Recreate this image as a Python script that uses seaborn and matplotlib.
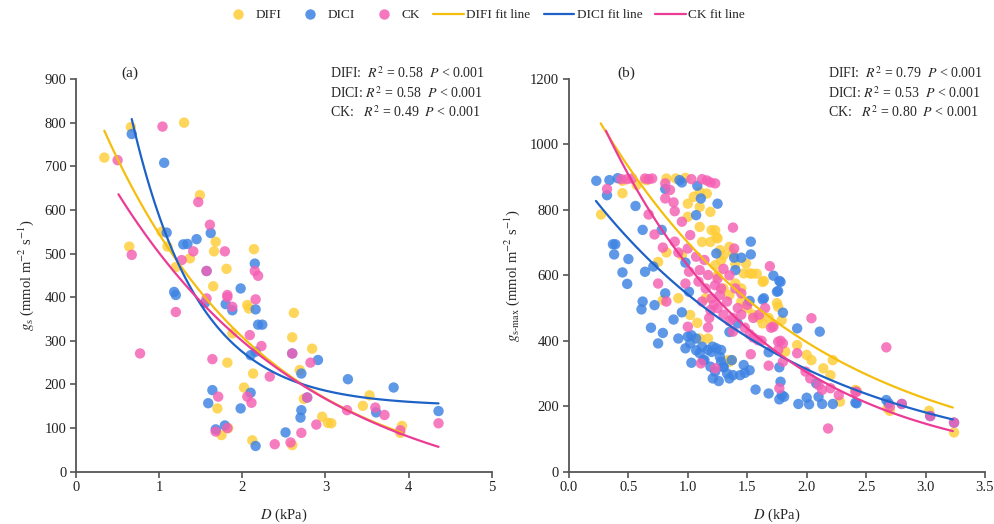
import numpy as np
import pandas as pd
import matplotlib
matplotlib.use("Agg")
import matplotlib.pyplot as plt
from matplotlib.lines import Line2D
import seaborn as sns

# ---------------- data: panel (a) g_s vs D ----------------
a_difi_D = [0.34, 0.66, 1.30, 0.64, 1.03, 1.10, 1.49, 1.68, 1.66, 1.37, 1.81, 2.14, 1.20, 1.65,
            2.06, 2.08, 2.62, 1.88, 2.60, 2.84, 1.82, 2.13, 2.69, 3.53, 3.45, 3.92, 3.90, 2.96,
            3.03, 3.07, 2.74, 2.60, 2.12, 2.02, 1.70, 1.75, 1.83]
a_difi_g = [720, 790, 800, 516, 550, 516, 634, 527, 505, 489, 465, 510, 469, 425,
            382, 374, 364, 317, 308, 282, 250, 225, 233, 175, 151, 105, 89, 126,
            112, 111, 167, 61, 72, 193, 145, 84, 100]

a_dici_D = [0.67, 1.06, 1.09, 1.29, 1.34, 1.45, 1.62, 2.15, 1.98, 1.57, 1.18, 1.20, 1.55, 1.80,
            1.88, 2.16, 2.19, 2.24, 2.10, 2.16, 2.60, 2.91, 2.71, 3.27, 3.82, 3.61, 4.36, 2.70,
            2.71, 2.78, 2.52, 2.16, 2.10, 1.98, 1.64, 1.59, 1.68, 1.79]
a_dici_g = [774, 708, 548, 521, 522, 533, 547, 477, 420, 460, 412, 405, 387, 384,
            370, 372, 337, 337, 267, 275, 271, 256, 225, 212, 193, 136, 139, 124,
            141, 170, 90, 59, 181, 145, 187, 157, 97, 106]

a_ck_D = [0.50, 0.67, 1.04, 1.47, 1.61, 1.41, 1.27, 1.79, 1.57, 2.15, 2.19, 1.57, 1.20, 1.82,
          1.82, 1.88, 2.16, 2.09, 2.23, 2.60, 2.82, 0.77, 1.64, 2.33, 3.60, 3.71, 3.26, 4.36,
          3.90, 2.89, 2.71, 2.78, 2.58, 2.39, 2.06, 2.11, 1.71, 1.68, 1.82]
a_ck_g = [714, 497, 791, 618, 566, 505, 485, 505, 460, 460, 449, 397, 366, 405,
          400, 378, 395, 313, 288, 271, 250, 271, 258, 218, 147, 130, 141, 111,
          95, 108, 89, 170, 67, 63, 172, 158, 172, 92, 100]

# ---------------- data: panel (b) g_s-max vs D ----------------
b_difi_D = [0.27, 0.45, 0.45, 0.57, 0.65, 0.82, 0.90, 0.98, 1.00, 1.05, 1.10, 1.16, 1.10, 1.19,
            1.00, 1.10, 1.12, 1.19, 1.20, 1.24, 1.27, 1.28, 1.35, 1.38, 1.40, 1.54, 1.58, 1.63,
            1.49, 0.75, 0.82, 0.95, 1.23, 1.30, 1.23, 1.25, 1.47, 1.52, 1.64, 1.40, 1.75, 1.02,
            1.08, 1.17, 0.79, 1.76, 1.79, 1.63, 1.92, 2.00, 2.04, 2.14, 2.22, 2.20, 2.28, 2.42,
            1.82, 1.37, 1.34, 2.41, 2.68, 2.70, 3.03, 3.24, 1.30, 1.35, 1.45, 1.50, 1.55, 1.60,
            1.68, 1.72, 1.25, 1.45, 1.15, 0.92, 1.10, 1.35]
b_difi_g = [786, 851, 889, 876, 891, 896, 896, 898, 819, 840, 855, 850, 809, 794,
            779, 748, 702, 702, 738, 717, 677, 646, 687, 666, 634, 605, 605, 580,
            636, 641, 670, 662, 631, 662, 738, 713, 606, 606, 583, 575, 515, 479,
            455, 407, 524, 504, 463, 453, 387, 357, 341, 316, 341, 295, 214, 247,
            367, 341, 341, 250, 194, 186, 186, 120, 560, 540, 520, 500, 480, 470,
            470, 450, 600, 560, 530, 530, 407, 336]

b_dici_D = [0.23, 0.34, 0.41, 0.32, 0.56, 0.62, 0.78, 0.37, 0.39, 0.38, 0.50, 0.45, 0.64, 0.49,
            0.71, 0.81, 0.93, 0.95, 1.08, 1.11, 1.07, 1.25, 0.98, 1.24, 1.53, 1.53, 1.39, 1.45,
            1.40, 1.72, 1.77, 1.76, 1.64, 1.52, 1.78, 1.75, 1.80, 1.92, 2.11, 1.35, 1.42, 1.63,
            0.62, 0.61, 0.72, 0.81, 0.69, 0.79, 0.75, 0.88, 0.95, 0.92, 1.01, 0.98, 1.02, 1.03,
            1.00, 1.03, 1.07, 1.07, 1.10, 1.12, 1.13, 1.17, 1.20, 1.21, 1.14, 1.19, 1.23, 1.24,
            1.27, 1.28, 1.28, 1.30, 1.30, 1.21, 1.26, 1.33, 1.35, 1.38, 1.44, 1.48, 1.52, 1.47,
            1.37, 1.57, 1.68, 1.68, 1.77, 1.78, 1.79, 1.81, 1.77, 1.93, 2.00, 2.02, 2.08, 2.10,
            2.13, 2.22, 2.42, 2.41, 2.67, 2.69, 2.80, 3.04, 3.24]
b_dici_g = [889, 891, 897, 845, 812, 739, 739, 695, 695, 664, 650, 609, 611, 574,
            627, 864, 891, 884, 874, 835, 784, 819, 639, 667, 703, 664, 654, 654,
            616, 599, 583, 552, 530, 522, 580, 550, 486, 438, 428, 427, 453, 526,
            520, 496, 509, 545, 440, 424, 392, 465, 487, 407, 550, 377, 392, 417,
            413, 333, 407, 371, 362, 382, 341, 372, 366, 382, 341, 321, 306, 377,
            351, 336, 372, 319, 321, 285, 277, 300, 285, 295, 295, 302, 310, 326,
            341, 251, 239, 365, 319, 275, 234, 229, 221, 207, 226, 206, 270, 229,
            207, 207, 209, 211, 219, 209, 207, 170, 150]

b_ck_D = [0.32, 0.44, 0.49, 0.53, 0.64, 0.67, 0.70, 0.81, 0.85, 0.88, 0.81, 0.89, 0.67, 0.72,
          0.79, 0.95, 1.02, 1.03, 1.12, 1.16, 1.19, 1.23, 0.89, 0.92, 1.00, 1.07, 1.14, 1.01,
          1.10, 0.75, 0.98, 1.17, 1.23, 1.09, 1.27, 1.38, 1.39, 1.69, 1.45, 1.00, 1.19, 1.17,
          1.11, 1.23, 1.38, 1.53, 1.68, 1.76, 1.80, 1.77, 1.92, 1.99, 2.03, 2.10, 2.13, 2.20,
          2.27, 2.18, 2.42, 1.59, 1.72, 1.76, 1.80, 2.04, 0.82, 2.41, 2.67, 2.70, 2.80, 3.04,
          3.24, 1.15, 1.20, 1.22, 1.25, 1.30, 1.28, 1.33, 1.35, 1.38, 1.42, 1.45, 1.48, 1.50,
          1.55, 1.52, 1.60, 1.65, 1.12, 1.18, 1.25, 1.30, 1.35, 1.40, 1.55, 1.62, 1.70, 1.78]
b_ck_g = [864, 894, 894, 896, 896, 894, 896, 881, 861, 823, 835, 796, 786, 725,
          685, 764, 723, 894, 894, 890, 884, 881, 703, 670, 682, 657, 647, 611,
          616, 575, 575, 601, 570, 581, 540, 746, 682, 628, 545, 443, 494, 441,
          331, 316, 428, 359, 324, 372, 336, 255, 362, 306, 285, 265, 250, 255,
          234, 132, 244, 402, 443, 397, 392, 469, 520, 244, 380, 199, 207, 170,
          150, 560, 530, 510, 500, 480, 560, 520, 460, 470, 500, 480, 440, 510,
          470, 420, 480, 500, 520, 470, 590, 620, 600, 560, 410, 400, 440, 400]

# fit lines: g = amp * exp(-rate * D) + offset, drawn over [D_start, D_end]
a_fit_amp = [980, 1521, 894]
a_fit_rate = [0.515, 1.25, 0.422]
a_fit_offset = [-41, 150, -85]
a_fit_start = [0.34, 0.67, 0.51]
a_fit_end = [3.92, 4.36, 4.36]

b_fit_amp = [1240, 937, 1307]
b_fit_rate = [0.571, 0.548, 0.729]
b_fit_offset = [0, 0, 0]
b_fit_start = [0.267, 0.227, 0.311]
b_fit_end = [3.23, 3.23, 3.23]

a_stats = ["DIFI:  $R^2$ = 0.58  $P$ < 0.001",
           "DICI: $R^2$ = 0.58  $P$ < 0.001",
           "CK:   $R^2$ = 0.49  $P$ < 0.001"]
b_stats = ["DIFI:  $R^2$ = 0.79  $P$ < 0.001",
           "DICI: $R^2$ = 0.53  $P$ < 0.001",
           "CK:   $R^2$ = 0.80  $P$ < 0.001"]

groups = ["DIFI", "DICI", "CK"]
dot_colors = {"DIFI": "#FFCD38", "DICI": "#3D82E3", "CK": "#F55FB3"}
line_colors = {"DIFI": "#F5BE0F", "DICI": "#1E62C8", "CK": "#EC3B95"}

sns.set_style("ticks")
plt.rcParams["font.family"] = ["Liberation Serif", "DejaVu Serif"]
plt.rcParams["mathtext.fontset"] = "stix"
plt.rcParams["axes.edgecolor"] = "#555555"
plt.rcParams["xtick.color"] = "#555555"
plt.rcParams["ytick.color"] = "#555555"
plt.rcParams["xtick.labelcolor"] = "#222222"
plt.rcParams["ytick.labelcolor"] = "#222222"


def long_frame(Ds, gs):
    parts = []
    for name, d, g in zip(groups, Ds, gs):
        parts.append(pd.DataFrame({"D": d, "g": g, "group": name}))
    return pd.concat(parts, ignore_index=True)


def fit_frame(amp, rate, offset, start, end):
    parts = []
    for name, A, k, c, x0, x1 in zip(groups, amp, rate, offset, start, end):
        x = np.linspace(x0, x1, 120)
        parts.append(pd.DataFrame({"D": x, "g": A * np.exp(-k * x) + c, "group": name}))
    return pd.concat(parts, ignore_index=True)


fig = plt.figure(figsize=(9.94, 5.24), dpi=100)
ax_a = fig.add_axes([0.0765, 0.0998, 0.4182, 0.7494])
ax_b = fig.add_axes([0.5724, 0.0998, 0.4185, 0.7494])

panels = [
    (ax_a, long_frame([a_difi_D, a_dici_D, a_ck_D], [a_difi_g, a_dici_g, a_ck_g]),
     fit_frame(a_fit_amp, a_fit_rate, a_fit_offset, a_fit_start, a_fit_end),
     a_stats, "(a)", (0, 5), np.arange(0, 6, 1), (0, 900), np.arange(0, 901, 100),
     r"$g_\mathrm{s}$ (mmol m$^{-2}$ s$^{-1}$)", "{:.0f}"),
    (ax_b, long_frame([b_difi_D, b_dici_D, b_ck_D], [b_difi_g, b_dici_g, b_ck_g]),
     fit_frame(b_fit_amp, b_fit_rate, b_fit_offset, b_fit_start, b_fit_end),
     b_stats, "(b)", (0, 3.5), np.arange(0, 3.51, 0.5), (0, 1200), np.arange(0, 1201, 200),
     r"$g_\mathrm{s\text{-}max}$ (mmol m$^{-2}$ s$^{-1}$)", "{:.1f}"),
]

for ax, pts, fits, stats, tag, xlim, xt, ylim, yt, ylab, xfmt in panels:
    sns.scatterplot(data=pts, x="D", y="g", hue="group", hue_order=groups,
                    palette=dot_colors, s=56, alpha=0.82, linewidth=0,
                    legend=False, ax=ax, zorder=2)
    sns.lineplot(data=fits, x="D", y="g", hue="group", hue_order=groups,
                 palette=line_colors, linewidth=1.6, legend=False, ax=ax,
                 sort=False, zorder=3)
    ax.set_xlim(*xlim)
    ax.set_ylim(*ylim)
    ax.set_xticks(xt)
    ax.set_xticklabels([xfmt.format(v) for v in xt])
    ax.set_yticks(yt)
    ax.tick_params(axis="both", length=4, width=1.2, labelsize=10.5, pad=3)
    for side in ("left", "bottom"):
        ax.spines[side].set_linewidth(1.3)
    sns.despine(ax=ax)
    ax.set_xlabel("$D$ (kPa)", fontsize=10.5, labelpad=9)
    ax.set_ylabel(ylab, fontsize=10.5, labelpad=6)
    ax.text(0.13 if tag == "(a)" else 0.137, 1.015, tag, transform=ax.transAxes,
            ha="center", va="center", fontsize=11)
    for i, line in enumerate(stats):
        ax.text(0.611 if tag == "(a)" else 0.623, 1.015 - 0.05 * i, line,
                transform=ax.transAxes, ha="left", va="center", fontsize=10)

handles = [Line2D([], [], linestyle="none", marker="o", markersize=7.5,
                  markerfacecolor=dot_colors[g], markeredgewidth=0, alpha=0.85) for g in groups]
handles += [Line2D([], [], color=line_colors[g], linewidth=1.6) for g in groups]
labels = groups + [g + " fit line" for g in groups]
fig.legend(handles, labels, loc="center", bbox_to_anchor=(0.487, 0.971), ncol=6,
           frameon=False, fontsize=9.5, handlelength=2.3, handletextpad=0.2,
           columnspacing=1.0)

fig.savefig("out.png", dpi=100)
